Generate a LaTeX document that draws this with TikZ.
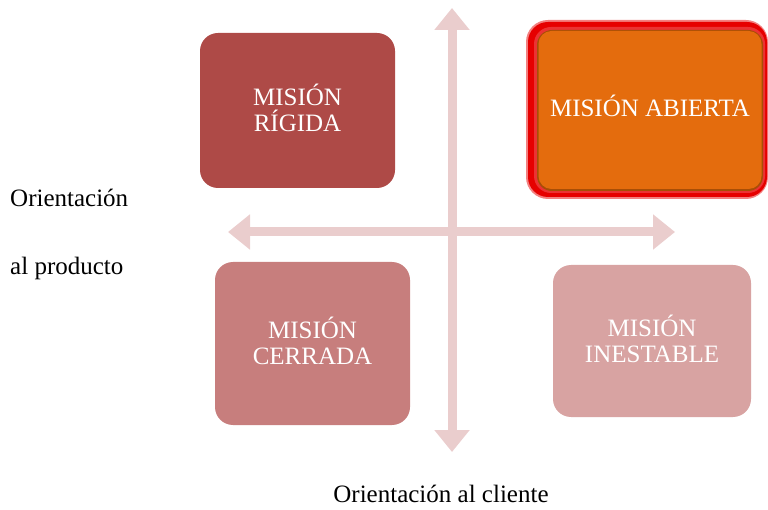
\documentclass[tikz,border=0pt]{standalone}
\usepackage{fontspec}
\setmainfont{Liberation Serif}
\usetikzlibrary{arrows.meta}
\definecolor{rigida}{HTML}{AE4A47}
\definecolor{cerrada}{HTML}{C77E7D}
\definecolor{inestable}{HTML}{D8A3A2}
\definecolor{abierta}{HTML}{E46C0D}
\definecolor{abiertadark}{HTML}{A84E06}
\definecolor{abiertared}{HTML}{E60000}
\definecolor{axis}{HTML}{EACDCD}
\tikzset{
  quad/.style={rounded corners=18pt, inner sep=0pt},
  quadtext/.style={inner sep=0pt, text=white, align=center, font=\fontsize{25}{26}\selectfont},
  axisarrow/.style={draw=axis, line width=9pt, {Triangle[width=34pt,length=22pt]}-{Triangle[width=34pt,length=22pt]}},
  lbl/.style={font=\fontsize{25}{27}\selectfont, inner sep=0pt, anchor=west}
}
\begin{document}
\begin{tikzpicture}[x=1pt,y=-1pt]
\useasboundingbox (0,0) rectangle (768,510);
% axes
\coordinate (top) at (452,8);
\coordinate (bot) at (452,452);
\coordinate (lft) at (228,232);
\coordinate (rgt) at (675,232);
\draw[axisarrow] (top) -- (bot);
\draw[axisarrow] (lft) -- (rgt);
% boxes
\node[quad, fill=rigida, minimum width=195pt, minimum height=155pt] (rig) at (297.5,110.5) {};
\node[quadtext] (rigt) at ([yshift=2.5pt]rig.center) {MISIÓN\\RÍGIDA};
\node[quad, fill=cerrada, minimum width=195pt, minimum height=163pt] (cer) at (312.5,343.5) {};
\node[quadtext] (cert) at ([yshift=2.5pt]cer.center) {MISIÓN\\CERRADA};
\node[quad, fill=inestable, minimum width=198pt, minimum height=152pt] (ine) at (652,341) {};
\node[quadtext] (inet) at ([yshift=2.5pt]ine.center) {MISIÓN\\INESTABLE};
% open mission with bevel
\fill[abiertared!50!white, rounded corners=22pt] (526,20) rectangle (768,199);
\fill[abiertared, rounded corners=20pt] (528,22) rectangle (767,197);
\fill[abiertared!80!white, rounded corners=17pt] (534,27) rectangle (765,193);
\fill[abiertadark, rounded corners=15pt] (537,30) rectangle (763,191);
\node[quad, fill=abierta, minimum width=223pt, minimum height=158pt, rounded corners=13pt] (abi) at (650,110) {};
\node[quadtext] (abit) at ([yshift=4pt]abi.center) {MISIÓN ABIERTA};
% labels
\node[lbl] (op1) at (10,198) {Orientación};
\node[lbl] (op2) at (10,268) {al producto};
\node[font=\fontsize{25}{27}\selectfont, inner sep=0pt] (oc) at (441,494) {Orientación al cliente};
\end{tikzpicture}
\end{document}
